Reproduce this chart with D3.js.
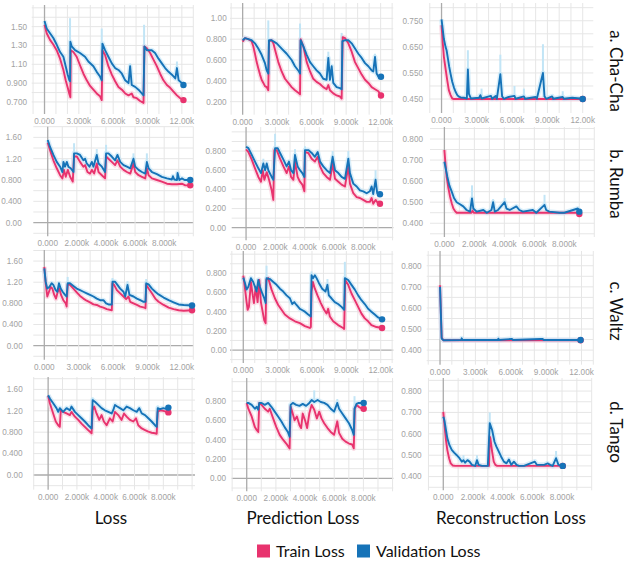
<!DOCTYPE html>
<html>
<head>
<meta charset="utf-8">
<script src="https://cdn.jsdelivr.net/npm/d3@7"></script>
<style>
  body { margin: 0; background: #fff; }
  svg { display: block; }
</style>
</head>
<body>
<svg id="chart"></svg>
<script>
const width = 626;
const height = 565;

// ---- labels ----
const rowNames = ["a. Cha-Cha", "b. Rumba", "c. Waltz", "d. Tango"];
const columnNames = ["Loss", "Prediction Loss", "Reconstruction Loss"];
const seriesNames = ["Train Loss", "Validation Loss"];

// ---- tick labels (steps in thousands) ----
const stepTicks12k = [0, 3, 6, 9, 12];
const stepTicks8k = [0, 2, 4, 6, 8];
const yTicksChaLoss = [0.7, 0.9, 1.1, 1.3, 1.5];
const yTicksChaPred = [0.2, 0.4, 0.6, 0.8, 1.0];
const yTicksChaRecon = [0.45, 0.55, 0.65, 0.75];
const yTicksLoss = [0, 0.4, 0.8, 1.2, 1.6];
const yTicksPred = [0, 0.2, 0.4, 0.6, 0.8];
const yTicksRecon = [0.4, 0.5, 0.6, 0.7, 0.8];

// ---- series: [step (k), value] ----
const chaLossTrain = [[0,1.52],[0.19,1.43],[0.48,1.36],[0.77,1.31],[1.06,1.25],[1.36,1.16],[1.65,1.04],[1.85,0.93],[2.03,0.85],[2.17,0.785],[2.26,0.75],[2.29,1.25],[2.52,1.23],[2.81,1.18],[3.10,1.09],[3.40,1.00],[3.69,0.93],[3.98,0.87],[4.27,0.83],[4.56,0.79],[4.85,0.76],[5.00,0.72],[5.06,1.25],[5.29,1.20],[5.58,1.08],[5.88,0.99],[6.17,0.92],[6.46,0.86],[6.76,0.83],[7.05,0.79],[7.34,0.77],[7.62,0.79],[7.77,0.75],[8.06,0.74],[8.35,0.71],[8.65,0.69],[8.73,1.29],[8.94,1.27],[9.23,1.22],[9.52,1.15],[9.81,1.08],[10.10,1.00],[10.39,0.93],[10.69,0.88],[10.98,0.85],[11.27,0.81],[11.57,0.77],[11.86,0.74],[12.14,0.72]];
const chaLossVal = [[0,1.56],[0.19,1.48],[0.48,1.43],[0.77,1.38],[1.06,1.31],[1.36,1.23],[1.65,1.18],[1.85,1.08],[2.03,0.99],[2.17,0.93],[2.23,0.92],[2.26,1.34],[2.38,1.29],[2.67,1.25],[3.10,1.22],[3.54,1.18],[3.83,1.13],[4.27,1.08],[4.56,1.02],[4.85,0.97],[5.00,0.93],[5.06,1.32],[5.29,1.25],[5.58,1.18],[5.88,1.11],[6.17,1.06],[6.46,1.04],[6.76,1.00],[7.05,0.93],[7.34,0.90],[7.48,1.08],[7.62,0.88],[7.92,0.86],[8.21,0.83],[8.50,0.79],[8.65,0.77],[8.73,1.29],[8.94,1.25],[9.37,1.25],[9.66,1.22],[9.96,1.16],[10.25,1.11],[10.54,1.06],[10.84,1.02],[11.13,0.99],[11.43,0.95],[11.57,1.06],[11.72,0.93],[12.01,0.90],[12.14,0.88]];
const chaPredTrain = [[0,0.776],[0.2,0.81],[0.49,0.80],[0.78,0.78],[0.93,0.73],[1.07,0.66],[1.22,0.58],[1.36,0.52],[1.51,0.46],[1.65,0.41],[1.80,0.38],[1.94,0.35],[2.09,0.34],[2.23,0.31],[2.29,0.78],[2.52,0.79],[2.67,0.76],[2.81,0.70],[3.10,0.58],[3.39,0.49],[3.68,0.42],[3.97,0.38],[4.26,0.34],[4.55,0.31],[4.90,0.28],[4.99,0.27],[5.04,0.80],[5.28,0.73],[5.57,0.58],[5.86,0.49],[6.14,0.42],[6.43,0.39],[6.72,0.37],[7.01,0.34],[7.30,0.32],[7.45,0.36],[7.59,0.31],[7.88,0.28],[8.17,0.26],[8.46,0.25],[8.61,0.23],[8.70,0.82],[8.90,0.81],[9.19,0.76],[9.48,0.68],[9.77,0.58],[10.06,0.52],[10.35,0.46],[10.64,0.41],[10.93,0.38],[11.22,0.34],[11.51,0.32],[11.80,0.30],[12.03,0.26]];
const chaPredVal = [[0,0.79],[0.2,0.81],[0.49,0.80],[0.78,0.79],[1.07,0.76],[1.36,0.71],[1.65,0.65],[1.94,0.57],[2.09,0.50],[2.23,0.47],[2.29,0.79],[2.52,0.79],[2.96,0.76],[3.39,0.71],[3.83,0.66],[4.26,0.60],[4.55,0.54],[4.90,0.49],[4.99,0.47],[5.04,0.79],[5.28,0.73],[5.57,0.65],[5.86,0.58],[6.14,0.54],[6.43,0.50],[6.72,0.47],[7.01,0.42],[7.30,0.41],[7.45,0.62],[7.59,0.41],[7.74,0.54],[7.88,0.38],[8.17,0.34],[8.46,0.33],[8.61,0.32],[8.67,0.78],[8.90,0.79],[9.19,0.79],[9.48,0.76],[9.77,0.71],[10.06,0.66],[10.35,0.62],[10.64,0.57],[10.93,0.54],[11.22,0.50],[11.36,0.49],[11.51,0.63],[11.65,0.47],[11.86,0.43],[12.03,0.44]];
const chaReconTrain = [[0,0.733],[0.11,0.663],[0.2,0.612],[0.34,0.567],[0.48,0.523],[0.62,0.484],[0.77,0.465],[0.91,0.452],[1.05,0.45],[12.0,0.45]];
const chaReconVal = [[0,0.755],[0.11,0.714],[0.2,0.68],[0.28,0.663],[0.34,0.65],[0.43,0.637],[0.54,0.606],[0.65,0.574],[0.77,0.546],[0.91,0.516],[1.05,0.495],[1.19,0.478],[1.34,0.465],[1.48,0.459],[1.62,0.456],[1.9,0.455],[2.15,0.452],[2.24,0.563],[2.33,0.47],[2.5,0.452],[3.2,0.455],[3.3,0.465],[3.4,0.452],[4.2,0.462],[4.3,0.451],[4.6,0.462],[4.7,0.451],[5.0,0.545],[5.15,0.46],[5.3,0.451],[5.7,0.458],[6.2,0.462],[6.3,0.451],[7.0,0.46],[7.1,0.451],[8.0,0.458],[8.1,0.451],[8.62,0.55],[8.75,0.46],[8.9,0.451],[9.4,0.46],[9.5,0.451],[10.3,0.458],[10.4,0.451],[11.1,0.455],[11.8,0.452],[12.0,0.45]];

const rumLossTrain = [[0,1.50],[0.16,1.36],[0.39,1.17],[0.62,1.02],[0.85,0.89],[1.01,0.83],[1.12,0.99],[1.24,0.86],[1.38,0.99],[1.54,0.86],[1.72,0.77],[1.81,1.24],[2.00,1.24],[2.22,1.14],[2.45,1.05],[2.57,1.08],[2.73,0.95],[2.91,0.92],[3.03,0.99],[3.19,0.92],[3.37,1.11],[3.49,0.95],[3.72,0.89],[3.94,0.83],[4.01,1.24],[4.17,1.20],[4.40,1.14],[4.63,1.08],[4.79,1.17],[4.98,1.05],[5.21,0.99],[5.44,0.95],[5.67,0.92],[5.89,1.11],[6.01,0.95],[6.24,0.89],[6.47,0.86],[6.70,0.83],[6.81,1.02],[6.93,0.89],[7.16,0.83],[7.50,0.80],[7.84,0.77],[8.19,0.73],[8.53,0.72],[8.88,0.72],[9.22,0.73],[9.45,0.70],[9.79,0.70]];
const rumLossVal = [[0,1.55],[0.16,1.42],[0.39,1.27],[0.62,1.14],[0.85,1.05],[1.01,0.95],[1.08,1.14],[1.19,1.05],[1.31,1.14],[1.42,1.05],[1.58,1.02],[1.77,0.95],[1.81,1.30],[2.00,1.30],[2.22,1.27],[2.45,1.17],[2.57,1.20],[2.68,1.11],[2.87,1.05],[3.03,1.14],[3.14,1.05],[3.37,1.27],[3.49,1.11],[3.72,1.05],[3.94,0.95],[4.01,1.30],[4.17,1.30],[4.40,1.24],[4.63,1.17],[4.79,1.27],[4.98,1.14],[5.21,1.08],[5.44,1.05],[5.67,1.02],[5.89,1.20],[6.01,1.05],[6.24,0.99],[6.47,0.95],[6.70,0.92],[6.81,1.14],[6.93,1.02],[7.16,0.95],[7.50,0.91],[7.84,0.86],[8.19,0.83],[8.53,0.81],[8.60,0.87],[8.69,0.81],[8.88,0.80],[8.92,0.93],[9.04,0.80],[9.22,0.83],[9.40,0.80],[9.79,0.80]];
const rumPredTrain = [[0,0.817],[0.16,0.79],[0.39,0.71],[0.61,0.62],[0.84,0.53],[1.02,0.48],[1.14,0.60],[1.25,0.50],[1.41,0.58],[1.57,0.50],[1.75,0.39],[1.86,0.29],[1.93,0.81],[2.09,0.81],[2.32,0.72],[2.55,0.64],[2.77,0.57],[2.93,0.64],[3.07,0.53],[3.23,0.50],[3.34,0.69],[3.52,0.53],[3.68,0.48],[3.84,0.45],[3.98,0.38],[4.02,0.79],[4.25,0.78],[4.48,0.72],[4.70,0.69],[4.89,0.74],[5.05,0.64],[5.27,0.57],[5.50,0.53],[5.73,0.50],[5.91,0.67],[6.07,0.51],[6.30,0.48],[6.52,0.45],[6.75,0.43],[6.98,0.64],[7.09,0.46],[7.32,0.36],[7.55,0.32],[7.77,0.31],[8.00,0.29],[8.23,0.27],[8.45,0.27],[8.57,0.31],[8.68,0.25],[8.84,0.29],[8.98,0.26],[9.14,0.25]];
const rumPredVal = [[0,0.845],[0.16,0.83],[0.39,0.76],[0.61,0.69],[0.84,0.62],[1.02,0.57],[1.18,0.67],[1.30,0.60],[1.41,0.67],[1.52,0.60],[1.75,0.53],[1.86,0.50],[1.98,0.83],[2.16,0.83],[2.32,0.78],[2.55,0.71],[2.77,0.64],[2.93,0.69],[3.07,0.60],[3.23,0.57],[3.34,0.76],[3.52,0.64],[3.68,0.60],[3.84,0.57],[3.98,0.53],[4.02,0.81],[4.25,0.81],[4.48,0.78],[4.70,0.74],[4.89,0.79],[5.05,0.69],[5.27,0.64],[5.50,0.60],[5.73,0.57],[5.91,0.74],[6.07,0.60],[6.30,0.57],[6.52,0.53],[6.75,0.51],[6.98,0.72],[7.09,0.57],[7.32,0.46],[7.55,0.43],[7.77,0.39],[8.00,0.38],[8.23,0.36],[8.45,0.38],[8.57,0.43],[8.68,0.35],[8.84,0.50],[8.95,0.36],[9.14,0.35]];
const rumReconTrain = [[0,0.748],[0.07,0.685],[0.15,0.62],[0.27,0.566],[0.38,0.526],[0.49,0.495],[0.6,0.47],[0.71,0.458],[0.82,0.45],[1.8,0.45],[1.88,0.46],[1.96,0.45],[8.9,0.45],[9.0,0.444]];
const rumReconVal = [[0,0.692],[0.09,0.66],[0.2,0.62],[0.33,0.58],[0.49,0.55],[0.64,0.52],[0.82,0.50],[1.04,0.49],[1.26,0.48],[1.48,0.463],[1.71,0.455],[1.84,0.518],[1.93,0.47],[2.15,0.455],[2.60,0.463],[2.83,0.45],[3.14,0.463],[3.25,0.50],[3.36,0.455],[3.58,0.463],[4.02,0.50],[4.14,0.47],[4.36,0.463],[4.8,0.48],[5.0,0.463],[5.24,0.455],[5.9,0.463],[6.13,0.45],[6.68,0.487],[6.79,0.463],[7.0,0.455],[7.68,0.45],[8.0,0.45],[8.9,0.47],[9.0,0.455]];

const walLossTrain = [[0,1.49],[0.12,1.18],[0.26,0.93],[0.41,1.02],[0.55,1.11],[0.70,1.08],[0.87,0.96],[1.02,0.89],[1.17,1.02],[1.31,1.08],[1.46,0.96],[1.66,0.86],[1.87,0.80],[1.95,0.74],[2.04,1.16],[2.24,1.15],[2.54,1.08],[2.83,1.01],[3.12,0.94],[3.41,0.89],[3.70,0.85],[3.99,0.82],[4.29,0.78],[4.58,0.77],[4.87,0.74],[5.16,0.72],[5.45,0.69],[5.89,0.67],[5.95,1.18],[6.09,1.15],[6.33,1.05],[6.62,0.99],[6.91,0.93],[7.14,0.88],[7.35,0.93],[7.49,0.83],[7.78,0.80],[8.08,0.77],[8.37,0.74],[8.75,0.72],[8.83,0.71],[8.89,1.15],[9.10,1.08],[9.39,0.99],[9.68,0.89],[9.97,0.83],[10.41,0.77],[10.85,0.72],[11.28,0.69],[11.72,0.67],[12.16,0.66],[12.89,0.67]];
const walLossVal = [[0,1.46],[0.12,1.21],[0.26,1.08],[0.44,1.11],[0.64,1.18],[0.79,1.15],[0.99,1.05],[1.14,1.02],[1.28,1.18],[1.43,1.08],[1.60,1.02],[1.81,0.96],[1.95,0.93],[2.04,1.18],[2.24,1.18],[2.54,1.13],[2.83,1.08],[3.12,1.05],[3.41,1.02],[3.70,0.99],[3.99,0.96],[4.29,0.93],[4.58,0.89],[4.87,0.86],[5.16,0.86],[5.39,0.80],[5.60,0.78],[5.89,0.78],[5.95,1.21],[6.18,1.21],[6.38,1.15],[6.62,1.08],[6.91,1.02],[7.06,0.93],[7.26,1.15],[7.43,0.96],[7.78,0.93],[8.08,0.89],[8.37,0.86],[8.66,0.83],[8.83,0.83],[8.89,1.18],[9.10,1.16],[9.39,1.08],[9.68,1.02],[9.97,0.97],[10.41,0.91],[10.85,0.86],[11.28,0.82],[11.72,0.78],[12.16,0.77],[12.89,0.76]];
const walPredTrain = [[0,0.775],[0.15,0.64],[0.29,0.50],[0.38,0.42],[0.49,0.45],[0.67,0.71],[0.78,0.61],[0.93,0.49],[1.08,0.66],[1.25,0.50],[1.40,0.73],[1.54,0.50],[1.69,0.40],[1.83,0.31],[1.95,0.28],[2.01,0.73],[2.18,0.75],[2.47,0.63],[2.76,0.54],[3.05,0.47],[3.34,0.42],[3.63,0.37],[4.07,0.33],[4.51,0.30],[4.94,0.28],[5.38,0.25],[5.81,0.23],[5.90,0.24],[5.96,0.61],[6.08,0.71],[6.25,0.64],[6.48,0.57],[6.77,0.49],[7.06,0.42],[7.27,0.38],[7.41,0.43],[7.56,0.35],[7.85,0.30],[8.28,0.26],[8.72,0.23],[8.81,0.22],[8.90,0.73],[9.16,0.68],[9.45,0.59],[9.74,0.52],[10.03,0.45],[10.32,0.38],[10.61,0.33],[10.90,0.30],[11.19,0.26],[11.63,0.24],[12.12,0.23]];
const walPredVal = [[0,0.755],[0.15,0.70],[0.29,0.63],[0.44,0.66],[0.67,0.75],[0.87,0.71],[1.02,0.66],[1.16,0.61],[1.31,0.73],[1.45,0.66],[1.66,0.59],[1.83,0.54],[1.95,0.49],[2.03,0.75],[2.33,0.74],[2.62,0.71],[2.91,0.68],[3.20,0.64],[3.49,0.61],[3.78,0.57],[4.07,0.54],[4.27,0.48],[4.45,0.50],[4.65,0.47],[4.94,0.43],[5.09,0.42],[5.38,0.40],[5.67,0.37],[5.90,0.35],[5.96,0.78],[6.10,0.75],[6.25,0.78],[6.40,0.75],[6.60,0.70],[6.89,0.64],[7.18,0.61],[7.35,0.68],[7.47,0.57],[7.70,0.54],[7.99,0.50],[8.28,0.48],[8.58,0.45],[8.81,0.42],[8.87,0.75],[9.16,0.73],[9.45,0.68],[9.74,0.63],[10.03,0.57],[10.32,0.52],[10.61,0.48],[10.90,0.43],[11.19,0.40],[11.48,0.37],[11.77,0.34],[12.12,0.32]];
const walReconTrain = [[0,0.708],[0.14,0.46],[0.28,0.447],[11.92,0.447]];
const walReconVal = [[0,0.70],[0.14,0.455],[0.28,0.447],[1.8,0.448],[1.84,0.456],[1.9,0.448],[4.9,0.448],[4.95,0.454],[5.0,0.448],[6.1,0.453],[6.2,0.448],[8.55,0.453],[8.7,0.453],[8.8,0.448],[11.92,0.448]];

const tanLossTrain = [[0,1.48],[0.12,1.34],[0.35,1.15],[0.53,1.00],[0.70,0.93],[0.81,0.90],[0.88,1.21],[1.04,1.18],[1.28,1.15],[1.51,1.12],[1.62,1.18],[1.86,1.09],[2.09,1.03],[2.32,0.96],[2.55,0.90],[2.78,0.84],[3.02,0.78],[3.09,1.21],[3.20,1.28],[3.36,1.15],[3.55,1.03],[3.71,1.12],[3.87,1.00],[4.06,0.93],[4.29,1.06],[4.48,1.00],[4.64,1.18],[4.87,1.12],[5.10,1.03],[5.27,1.15],[5.45,1.09],[5.68,1.03],[5.92,1.00],[6.10,1.06],[6.26,0.93],[6.50,0.87],[6.73,0.84],[6.96,0.81],[7.19,0.79],[7.42,0.78],[7.54,0.77],[7.61,1.18],[7.77,1.21],[8.00,1.20],[8.24,1.18],[8.35,1.17]];
const tanLossVal = [[0,1.49],[0.12,1.43],[0.35,1.34],[0.58,1.25],[0.70,1.18],[0.81,1.25],[1.04,1.18],[1.28,1.25],[1.51,1.21],[1.62,1.28],[1.86,1.18],[2.09,1.12],[2.32,1.06],[2.55,1.00],[2.78,0.93],[3.02,0.87],[3.09,1.40],[3.25,1.37],[3.48,1.31],[3.71,1.25],[3.94,1.21],[4.18,1.18],[4.41,1.15],[4.52,1.21],[4.64,1.31],[4.80,1.28],[4.99,1.25],[5.22,1.21],[5.45,1.28],[5.68,1.25],[5.92,1.21],[6.15,1.18],[6.33,1.25],[6.50,1.15],[6.73,1.12],[6.96,1.06],[7.19,1.00],[7.42,0.93],[7.54,0.90],[7.61,1.25],[7.77,1.23],[8.00,1.25],[8.24,1.23],[8.35,1.26]];
const tanPredTrain = [[0,0.78],[0.11,0.72],[0.34,0.64],[0.56,0.53],[0.68,0.50],[0.79,0.48],[0.86,0.78],[1.02,0.76],[1.24,0.72],[1.47,0.69],[1.58,0.72],[1.81,0.62],[2.03,0.53],[2.26,0.45],[2.49,0.40],[2.71,0.36],[2.94,0.31],[3.01,0.74],[3.12,0.69],[3.28,0.60],[3.44,0.64],[3.62,0.55],[3.73,0.52],[3.84,0.67],[4.00,0.60],[4.14,0.52],[4.29,0.67],[4.45,0.76],[4.63,0.71],[4.81,0.62],[4.97,0.69],[5.13,0.62],[5.31,0.57],[5.54,0.52],[5.76,0.48],[5.99,0.45],[6.21,0.59],[6.33,0.47],[6.55,0.41],[6.78,0.38],[7.01,0.36],[7.23,0.35],[7.34,0.31],[7.41,0.72],[7.53,0.76],[7.68,0.74],[7.91,0.72],[8.02,0.72]];
const tanPredVal = [[0,0.78],[0.11,0.78],[0.34,0.76],[0.56,0.72],[0.68,0.74],[0.79,0.71],[0.86,0.78],[1.02,0.78],[1.24,0.76],[1.47,0.78],[1.69,0.74],[1.92,0.69],[2.15,0.64],[2.37,0.59],[2.60,0.53],[2.82,0.48],[2.94,0.43],[3.01,0.76],[3.16,0.78],[3.39,0.76],[3.62,0.75],[3.84,0.77],[4.07,0.75],[4.29,0.78],[4.45,0.81],[4.63,0.79],[4.86,0.81],[5.08,0.79],[5.31,0.78],[5.54,0.76],[5.76,0.72],[5.99,0.69],[6.21,0.78],[6.33,0.72],[6.55,0.67],[6.78,0.62],[7.01,0.57],[7.23,0.50],[7.34,0.45],[7.39,0.72],[7.53,0.77],[7.68,0.78],[7.91,0.78],[8.02,0.78]];
const tanReconTrain = [[0,0.703],[0.09,0.633],[0.18,0.571],[0.27,0.525],[0.39,0.486],[0.50,0.462],[0.63,0.452],[0.8,0.45],[3.08,0.45],[3.13,0.587],[3.17,0.58],[3.29,0.517],[3.40,0.47],[3.51,0.455],[3.63,0.45],[8.05,0.45]];
const tanReconVal = [[0,0.68],[0.07,0.665],[0.18,0.618],[0.27,0.58],[0.41,0.548],[0.57,0.525],[0.73,0.512],[0.91,0.50],[1.09,0.486],[1.25,0.47],[1.36,0.477],[1.47,0.465],[1.63,0.477],[1.77,0.47],[1.93,0.455],[2.15,0.45],[2.27,0.477],[2.38,0.455],[2.61,0.45],[3.00,0.45],[3.13,0.65],[3.29,0.618],[3.45,0.563],[3.58,0.54],[3.74,0.517],[3.90,0.493],[4.08,0.47],[4.26,0.462],[4.42,0.48],[4.58,0.455],[4.76,0.47],[4.94,0.455],[5.10,0.45],[5.44,0.45],[6.17,0.47],[6.30,0.455],[6.80,0.455],[7.03,0.462],[7.21,0.455],[7.37,0.45],[7.60,0.486],[7.76,0.455],[8.05,0.45]];

// faint raw-value spikes of the validation curves: [step (k), peak]
const chaLossSpikes = [[2.23,1.59],[5.0,1.48],[7.48,1.11],[8.70,1.52],[11.57,1.13]];
const chaPredSpikes = [[2.23,0.98],[4.99,0.95],[7.45,0.68],[8.61,0.86],[11.51,0.66]];
const chaReconSpikes = [[2.24,0.637],[5.0,0.62],[8.62,0.66],[3.4,0.49],[6.2,0.50],[7.0,0.49],[10.3,0.48]];
const rumLossSpikes = [[1.81,1.49],[4.01,1.46],[6.81,1.30],[5.89,1.30],[3.37,1.38]];
const rumPredSpikes = [[1.98,0.98],[1.18,0.72],[3.34,0.82],[4.02,0.85],[5.91,0.80],[6.98,0.80],[8.84,0.60]];
const rumReconSpikes = [[1.84,0.58],[6.68,0.535],[3.25,0.515],[4.02,0.52]];
const walLossSpikes = [[2.04,1.30],[5.95,1.28],[8.89,1.26],[7.26,1.22]];
const walPredSpikes = [[2.03,0.88],[5.96,0.82],[8.87,0.92],[7.35,0.74]];
const walReconSpikes = [];
const tanLossSpikes = [[3.09,1.45],[7.61,1.30]];
const tanPredSpikes = [[4.63,0.91],[7.39,0.85],[6.21,0.82]];
const tanReconSpikes = [[3.13,0.70],[2.27,0.50],[7.60,0.52],[1.36,0.50]];

// ---- layout of the 12 panels: grid box [left, right, top, bottom], axis ranges, y-label anchor ----
const panels = [
  { row: 0, col: 0, train: chaLossTrain, val: chaLossVal, spikes: chaLossSpikes, xTicks: stepTicks12k, yTicks: yTicksChaLoss,
    box: [31.7, 193.3, 5, 111], xDomain: [-1.12, 13.0], yDomain: [0.604, 1.73], labelX: 27 },
  { row: 0, col: 1, train: chaPredTrain, val: chaPredVal, spikes: chaPredSpikes, xTicks: stepTicks12k, yTicks: yTicksChaPred,
    box: [230, 393.3, 3, 111.7], xDomain: [-1.1, 13.1], yDomain: [0.104, 1.147], labelX: 226.7 },
  { row: 0, col: 2, train: chaReconTrain, val: chaReconVal, spikes: chaReconSpikes, xTicks: stepTicks12k, yTicks: yTicksChaRecon,
    box: [429.3, 593.3, 3, 110], xDomain: [-1.04, 12.9], yDomain: [0.408, 0.818], labelX: 423 },
  { row: 1, col: 0, train: rumLossTrain, val: rumLossVal, spikes: rumLossSpikes, xTicks: stepTicks8k, yTicks: yTicksLoss,
    box: [33.3, 193.3, 126.7, 233.3], xDomain: [-0.99, 10.0], yDomain: [-0.2, 1.8], labelX: 21.7 },
  { row: 1, col: 1, train: rumPredTrain, val: rumPredVal, spikes: rumPredSpikes, xTicks: stepTicks8k, yTicks: yTicksPred,
    box: [231.7, 393.3, 127, 237.3], xDomain: [-0.98, 10.05], yDomain: [-0.1, 1.051], labelX: 226 },
  { row: 1, col: 2, train: rumReconTrain, val: rumReconVal, spikes: rumReconSpikes, xTicks: stepTicks8k, yTicks: yTicksRecon,
    box: [430, 594.3, 127, 234], xDomain: [-0.96, 10.0], yDomain: [0.349, 0.857], labelX: 423 },
  { row: 2, col: 0, train: walLossTrain, val: walLossVal, spikes: walLossSpikes, xTicks: stepTicks12k, yTicks: yTicksLoss,
    box: [33.3, 193.3, 250, 356.7], xDomain: [-0.96, 13.0], yDomain: [-0.208, 1.809], labelX: 22.7 },
  { row: 2, col: 1, train: walPredTrain, val: walPredVal, spikes: walPredSpikes, xTicks: stepTicks12k, yTicks: yTicksPred,
    box: [230, 393.3, 251, 360], xDomain: [-1.16, 13.1], yDomain: [-0.104, 1.033], labelX: 226.7 },
  { row: 2, col: 2, train: walReconTrain, val: walReconVal, spikes: walReconSpikes, xTicks: stepTicks12k, yTicks: yTicksRecon,
    box: [426.7, 593.3, 251, 361.7], xDomain: [-1.13, 13.0], yDomain: [0.345, 0.870], labelX: 421.7 },
  { row: 3, col: 0, train: tanLossTrain, val: tanLossVal, spikes: tanLossSpikes, xTicks: stepTicks8k, yTicks: yTicksLoss,
    box: [33.3, 195, 377, 486.7], xDomain: [-1.03, 10.2], yDomain: [-0.219, 1.832], labelX: 22.7 },
  { row: 3, col: 1, train: tanPredTrain, val: tanPredVal, spikes: tanPredSpikes, xTicks: stepTicks8k, yTicks: yTicksPred,
    box: [231.7, 393.3, 378, 488.3], xDomain: [-1.03, 10.05], yDomain: [-0.103, 1.038], labelX: 226 },
  { row: 3, col: 2, train: tanReconTrain, val: tanReconVal, spikes: tanReconSpikes, xTicks: stepTicks8k, yTicks: yTicksRecon,
    box: [428.3, 591.7, 378, 487.3], xDomain: [-1.01, 10.0], yDomain: [0.350, 0.861], labelX: 421.7 }
];

const rowLabelY = [71, 184, 311, 432];
const rowLabelX = 616;
const columnTitleX = [111, 303, 511];
const columnTitleY = 518;
const legendY = 551;
const legendX = [257, 357];

const trainColor = "#e8336e";
const valColor = "#1673b8";
const trainFaint = "#f9c6d5";
const valFaint = "#c2e5f6";
const tickFont = "'Liberation Sans', Arial, sans-serif";
const titleFont = "Lato, 'Liberation Sans', sans-serif";

const formatStep = d3.format(".4s");
const formatValue = d3.format(".3r");

const svg = d3.select("#chart")
  .attr("width", width)
  .attr("height", height);

svg.append("rect").attr("width", width).attr("height", height).attr("fill", "#fff");

panels.forEach(p => {
  const [left, right, top, bottom] = p.box;
  const x = d3.scaleLinear().domain(p.xDomain).range([left, right]);
  const y = d3.scaleLinear().domain(p.yDomain).range([bottom, top]);
  const g = svg.append("g").attr("class", "panel");

  // grid: one line per 1k steps, and at half the label spacing in y
  const xGrid = d3.range(Math.ceil(p.xDomain[0] - 1e-6), Math.floor(p.xDomain[1] + 1e-6) + 1);
  const yStep = (p.yTicks[1] - p.yTicks[0]) / 2;
  const yGrid = d3.range(Math.ceil(p.yDomain[0] / yStep - 1e-6), Math.floor(p.yDomain[1] / yStep + 1e-6) + 1)
    .map(i => +(i * yStep).toFixed(4));

  g.append("g").selectAll("line").data(yGrid).join("line")
    .attr("x1", left).attr("x2", right)
    .attr("y1", d => y(d)).attr("y2", d => y(d))
    .attr("stroke", d => d === 0 ? "#ababab" : "#e6e6e6")
    .attr("stroke-width", d => d === 0 ? 1.3 : 1);

  g.append("g").selectAll("line").data(xGrid).join("line")
    .attr("x1", d => x(d)).attr("x2", d => x(d))
    .attr("y1", top).attr("y2", bottom + 3)
    .attr("stroke", d => d === 0 ? "#ababab" : "#e6e6e6")
    .attr("stroke-width", d => d === 0 ? 1.3 : 1);

  // tick labels
  g.append("g").selectAll("text").data(p.yTicks).join("text")
    .attr("x", p.labelX).attr("y", d => y(d))
    .attr("dy", "0.35em")
    .attr("text-anchor", "end")
    .attr("font-family", tickFont).attr("font-size", 8.2)
    .attr("fill", "#a2a2a2")
    .text(formatValue);

  g.append("g").selectAll("text").data(p.xTicks).join("text")
    .attr("x", d => x(d)).attr("y", bottom + 10)
    .attr("dy", "0.35em")
    .attr("text-anchor", "middle")
    .attr("font-family", tickFont).attr("font-size", 8.2)
    .attr("fill", "#a2a2a2")
    .text(d => formatStep(d * 1000));

  const line = d3.line().x(d => x(d[0])).y(d => y(d[1]));

  // faint raw band
  [[p.train, trainFaint], [p.val, valFaint]].forEach(([data, color]) => {
    g.append("path").datum(data)
      .attr("d", line)
      .attr("fill", "none")
      .attr("stroke", color)
      .attr("stroke-width", 5)
      .attr("stroke-opacity", 0.6)
      .attr("stroke-linejoin", "round");
  });

  // raw spikes on the validation curve
  const bis = d3.bisector(d => d[0]).center;
  g.append("g").selectAll("line").data(p.spikes).join("line")
    .attr("x1", d => x(d[0])).attr("x2", d => x(d[0]))
    .attr("y1", d => y(p.val[bis(p.val, d[0])][1]))
    .attr("y2", d => y(d[1]))
    .attr("stroke", valFaint)
    .attr("stroke-width", 2);

  // smoothed curves
  [[p.train, trainColor], [p.val, valColor]].forEach(([data, color]) => {
    g.append("path").datum(data)
      .attr("d", line)
      .attr("fill", "none")
      .attr("stroke", color)
      .attr("stroke-width", 1.9)
      .attr("stroke-linejoin", "round");
    const last = data[data.length - 1];
    g.append("circle")
      .attr("cx", x(last[0])).attr("cy", y(last[1]))
      .attr("r", 3.2)
      .attr("fill", color);
  });
});

// row labels (rotated)
svg.append("g").selectAll("text").data(rowNames).join("text")
  .attr("transform", (d, i) => `translate(${rowLabelX},${rowLabelY[i]}) rotate(90)`)
  .attr("text-anchor", "middle")
  .attr("dy", "0.35em")
  .attr("font-family", titleFont).attr("font-size", 17)
  .attr("fill", "#111")
  .text(d => d);

// column titles
svg.append("g").selectAll("text").data(columnNames).join("text")
  .attr("x", (d, i) => columnTitleX[i]).attr("y", columnTitleY)
  .attr("dy", "0.35em")
  .attr("text-anchor", "middle")
  .attr("font-family", titleFont).attr("font-size", 17)
  .attr("fill", "#111")
  .text(d => d);

// legend
const legend = svg.append("g").selectAll("g").data(seriesNames).join("g")
  .attr("transform", (d, i) => `translate(${legendX[i]},${legendY})`);
legend.append("rect")
  .attr("x", 0).attr("y", -6.5).attr("width", 13).attr("height", 13)
  .attr("fill", (d, i) => i === 0 ? trainColor : valColor);
legend.append("text")
  .attr("x", 19).attr("dy", "0.35em")
  .attr("font-family", titleFont).attr("font-size", 16)
  .attr("fill", "#111")
  .text(d => d);
</script>
</body>
</html>
